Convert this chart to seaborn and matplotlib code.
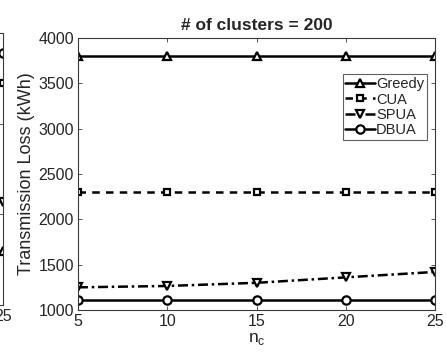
import matplotlib
matplotlib.use('Agg')
import matplotlib.pyplot as plt
import seaborn as sns

# number of cluster heads
n_c = [5, 10, 15, 20, 25]

# # of clusters = 200 (main panel)
greedy = [3800, 3800, 3800, 3800, 3800]
cua = [2300, 2300, 2300, 2300, 2300]
spua = [1250, 1265, 1300, 1360, 1420]
dbua = [1110, 1110, 1110, 1110, 1110]

# neighbouring panel, only its right edge is visible
left_greedy = [1600, 1600, 1600, 1600, 1600]
left_cua = [3450, 3450, 3450, 3450, 3450]
left_spua = [2000, 2030, 2070, 2100, 2140]
left_dbua = [3780, 3780, 3780, 3780, 3780]

sns.set_style('white')
plt.rcParams['font.family'] = ['Liberation Sans', 'DejaVu Sans']
plt.rcParams['text.color'] = '#262626'
plt.rcParams['axes.labelcolor'] = '#262626'

fig = plt.figure(figsize=(4.46, 3.56), dpi=100)
ax = fig.add_axes([78 / 446, 46 / 356, 357 / 446, 272 / 356])
ax0 = fig.add_axes([(3 - 357) / 446, 51 / 356, 357 / 446, 272 / 356])

series = [
    ('Greedy', '^', '-'),
    ('CUA', 's', (0, (3, 2.5))),
    ('SPUA', 'v', (0, (4, 1.5, 1, 1.5))),
    ('DBUA', 'o', '-'),
]

def draw(a, values, labels=True):
    for (name, mk, ls), vals in zip(series, values):
        sns.lineplot(x=n_c, y=vals, ax=a, color='black', linewidth=1.8,
                     linestyle=ls, marker=mk, markersize=6 if mk != 's' else 4.5,
                     markerfacecolor='white', markeredgecolor='black',
                     markeredgewidth=1.6, label=name if labels else None,
                     legend=False)
    a.set_xlim(5, 25)
    a.set_xticks(n_c)
    for s in a.spines.values():
        s.set_color('#3a3a3a')
        s.set_linewidth(0.8)
    a.tick_params(direction='in', length=3, width=0.6, colors='#3a3a3a',
                  labelcolor='#262626', labelsize=11.5, top=True, right=True,
                  bottom=True, left=True, pad=3)

draw(ax, [greedy, cua, spua, dbua])
ax.set_ylim(1000, 4000)
ax.set_yticks([1000, 1500, 2000, 2500, 3000, 3500, 4000])
ax.set_xlabel('n$_\\mathregular{c}$', fontsize=12.5, labelpad=1)
ax.set_ylabel('Transmission Loss (kWh)', fontsize=13, labelpad=2)
ax.set_title('# of clusters = 200', fontsize=12.5, fontweight='bold', pad=6)
leg = ax.legend(loc='upper right', bbox_to_anchor=(0.978, 0.867), fontsize=10.5,
                frameon=True, fancybox=False, handlelength=2.0,
                handletextpad=0.1, borderpad=0.2, labelspacing=0.1,
                borderaxespad=0)
leg.get_frame().set_edgecolor('#3a3a3a')
leg.get_frame().set_linewidth(0.8)

draw(ax0, [left_greedy, left_cua, left_spua, left_dbua], labels=False)
ax0.set_ylim(1000, 4000)
ax0.set_yticks([1000, 2000, 3000, 4000])
ax0.set_yticklabels([])

fig.savefig('out.png', dpi=100)
